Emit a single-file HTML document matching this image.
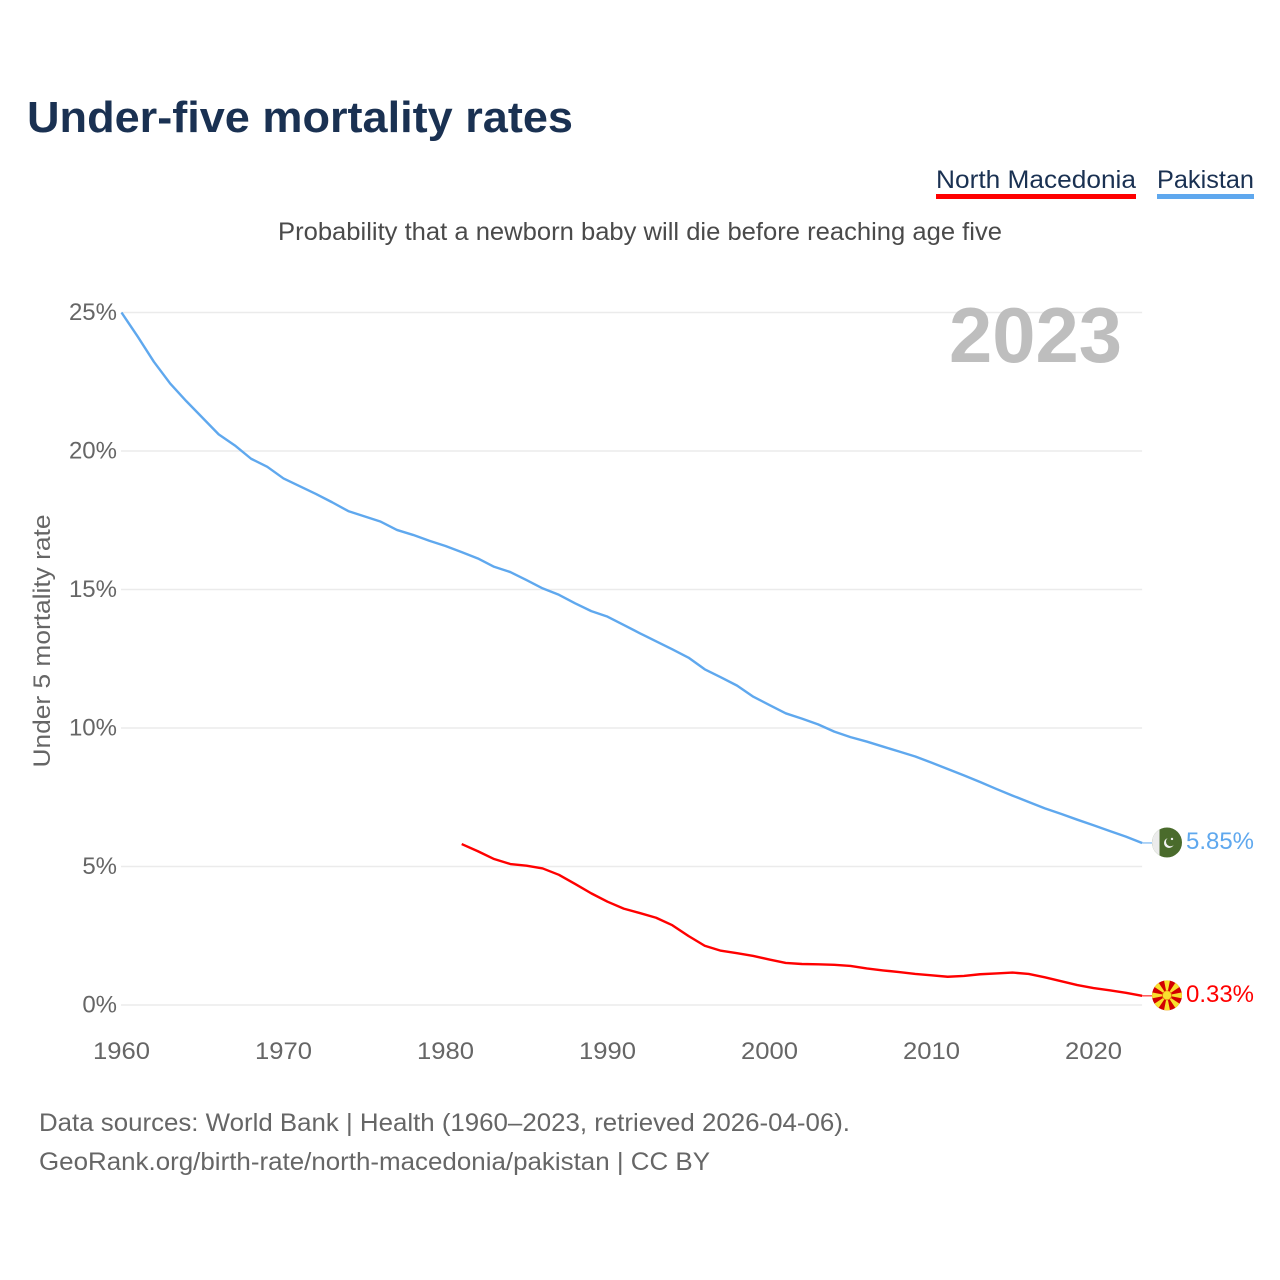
<!DOCTYPE html>
<html lang="en">
<head>
<meta charset="utf-8">
<title>Under-five mortality rates</title>
<style>
html,body{margin:0;padding:0;background:#fff;}
svg{display:block;font-family:"Liberation Sans",sans-serif;}
</style>
</head>
<body>
<svg id="chart" width="1280" height="1280" viewBox="0 0 1280 1280" xmlns="http://www.w3.org/2000/svg">
  <rect x="0" y="0" width="1280" height="1280" fill="#ffffff"/>
  <text x="27" y="132" font-size="44" font-weight="700" fill="#1a3152" textLength="546" lengthAdjust="spacingAndGlyphs">Under-five mortality rates</text>
  <g>
    <g>
      <text x="936" y="188" font-size="25" fill="#1a3152" textLength="200" lengthAdjust="spacingAndGlyphs">North Macedonia</text>
      <rect x="936" y="194" width="200" height="5" fill="#ff0000"/>
    </g>
    <g>
      <text x="1157" y="188" font-size="25" fill="#1a3152" textLength="97" lengthAdjust="spacingAndGlyphs">Pakistan</text>
      <rect x="1157" y="194" width="97" height="5" fill="#5fa8ee"/>
    </g>
  </g>
  <text x="278" y="240" font-size="25" fill="#4a4a4a" textLength="724" lengthAdjust="spacingAndGlyphs">Probability that a newborn baby will die before reaching age five</text>
  <text transform="translate(50,641) rotate(-90)" text-anchor="middle" font-size="24" fill="#666666" textLength="253" lengthAdjust="spacingAndGlyphs">Under 5 mortality rate</text>
  <g id="grid"></g>
  <g id="yticks"></g>
  <g id="xticks"></g>
  <text x="949" y="362" font-size="78" font-weight="700" fill="#bebebe" textLength="173" lengthAdjust="spacingAndGlyphs">2023</text>
  <g id="series"></g>
  <defs>
    <clipPath id="clip-pk"><circle cx="0" cy="0" r="15"/></clipPath>
    <clipPath id="clip-mk"><circle cx="0" cy="0" r="15"/></clipPath>
  </defs>
  <g id="flag-pk">
    <g clip-path="url(#clip-pk)">
      <rect x="-15" y="-15" width="30" height="30" fill="#4a6b2c"/>
      <rect x="-15" y="-15" width="7.5" height="30" fill="#ececec"/>
      <circle cx="2" cy="0.5" r="5" fill="#f2f2f2"/>
      <circle cx="3.6" cy="-0.8" r="4.6" fill="#4a6b2c"/>
      <circle cx="5" cy="-3.5" r="1.2" fill="#f2f2f2"/>
    </g>
  </g>
  <g id="flag-mk">
    <g clip-path="url(#clip-mk)">
      <rect x="-15" y="-15" width="30" height="30" fill="#d20000"/>
      <polygon points="0,0 -3.2,-16 3.2,-16" fill="#f8e02e"/>
      <polygon points="0,0 -3.2,-16 3.2,-16" fill="#f8e02e" transform="rotate(45)"/>
      <polygon points="0,0 -3.2,-16 3.2,-16" fill="#f8e02e" transform="rotate(90)"/>
      <polygon points="0,0 -3.2,-16 3.2,-16" fill="#f8e02e" transform="rotate(135)"/>
      <polygon points="0,0 -3.2,-16 3.2,-16" fill="#f8e02e" transform="rotate(180)"/>
      <polygon points="0,0 -3.2,-16 3.2,-16" fill="#f8e02e" transform="rotate(225)"/>
      <polygon points="0,0 -3.2,-16 3.2,-16" fill="#f8e02e" transform="rotate(270)"/>
      <polygon points="0,0 -3.2,-16 3.2,-16" fill="#f8e02e" transform="rotate(315)"/>
      <circle cx="0" cy="0" r="5" fill="#e86a10"/>
      <circle cx="0" cy="0" r="4.2" fill="#f8e02e"/>
    </g>
  </g>
  <text x="39" y="1131" font-size="25" fill="#666666" textLength="811" lengthAdjust="spacingAndGlyphs">Data sources: World Bank | Health (1960–2023, retrieved 2026-04-06).</text>
  <text x="39" y="1170" font-size="25" fill="#666666" textLength="671" lengthAdjust="spacingAndGlyphs">GeoRank.org/birth-rate/north-macedonia/pakistan | CC BY</text>
</svg>
<script>
const yTickValues = [0, 5, 10, 15, 20, 25];
const xTickValues = [1960, 1970, 1980, 1990, 2000, 2010, 2020];
const pakistanStartYear = 1960;
const pakistanValues = [
  25.0, 24.13, 23.22, 22.44, 21.8, 21.2, 20.6, 20.2, 19.72, 19.43,
  19.01, 18.73, 18.45, 18.15, 17.83, 17.64, 17.45, 17.15, 16.97, 16.76,
  16.57, 16.35, 16.12, 15.82, 15.63, 15.34, 15.04, 14.81, 14.5, 14.22,
  14.02, 13.72, 13.42, 13.13, 12.84, 12.54, 12.12, 11.83, 11.53, 11.13,
  10.83, 10.53, 10.34, 10.13, 9.87, 9.67, 9.51, 9.33, 9.15, 8.97,
  8.75, 8.52, 8.29, 8.05, 7.8, 7.56, 7.33, 7.1, 6.9, 6.69,
  6.49, 6.28, 6.08, 5.85
];
const macedoniaStartYear = 1981;
const macedoniaValues = [
  5.81, 5.55, 5.27, 5.09, 5.03, 4.93, 4.70, 4.37, 4.03,
  3.73, 3.48, 3.32, 3.15, 2.88, 2.49, 2.14, 1.96, 1.87, 1.77,
  1.64, 1.52, 1.48, 1.47, 1.45, 1.41, 1.32, 1.25, 1.19, 1.12,
  1.07, 1.02, 1.05, 1.11, 1.14, 1.17, 1.12, 1.00, 0.86, 0.72,
  0.61, 0.53, 0.44, 0.33
];

const SVG_NS = 'http://www.w3.org/2000/svg';
const xOf = function (year) { return 121.5 + (year - 1960) * 16.2; };
const yOf = function (value) { return 1005 - value * 27.7; };
const xEnd = xOf(2023);

const gridGroup = document.getElementById('grid');
const yTickGroup = document.getElementById('yticks');
const xTickGroup = document.getElementById('xticks');
const seriesGroup = document.getElementById('series');
const svgRoot = document.getElementById('chart');

yTickValues.forEach(function (v) {
  const line = document.createElementNS(SVG_NS, 'line');
  
  
  line.setAttribute('x1', 121);
  line.setAttribute('x2', xEnd);
  line.setAttribute('y1', yOf(v));
  line.setAttribute('y2', yOf(v));
  line.setAttribute('stroke', '#ebebeb');
  line.setAttribute('stroke-width', '1.6');
  gridGroup.appendChild(line);

  const label = document.createElementNS(SVG_NS, 'text');
  
  
  label.setAttribute('x', 117);
  label.setAttribute('y', yOf(v) + 7.5);
  label.setAttribute('text-anchor', 'end');
  label.setAttribute('font-size', '24');
  label.setAttribute('fill', '#666666');
  label.textContent = v + '%';
  yTickGroup.appendChild(label);
});

xTickValues.forEach(function (year) {
  const label = document.createElementNS(SVG_NS, 'text');
  
  
  label.setAttribute('x', xOf(year));
  label.setAttribute('y', 1059);
  label.setAttribute('text-anchor', 'middle');
  label.setAttribute('font-size', '24');
  label.setAttribute('fill', '#666666');
  label.setAttribute('textLength', '57');
  label.setAttribute('lengthAdjust', 'spacingAndGlyphs');
  label.textContent = String(year);
  xTickGroup.appendChild(label);
});

function drawSeries(name, startYear, values, color, flagId) {
  const points = values.map(function (v, i) {
    return xOf(startYear + i).toFixed(2) + ',' + yOf(v).toFixed(2);
  }).join(' ');
  const line = document.createElementNS(SVG_NS, 'polyline');
  
  
  line.setAttribute('points', points);
  line.setAttribute('fill', 'none');
  line.setAttribute('stroke', color);
  line.setAttribute('stroke-width', '2.4');
  line.setAttribute('stroke-linejoin', 'round');
  seriesGroup.appendChild(line);

  const last = values[values.length - 1];
  const lastX = xOf(startYear + values.length - 1);
  const lastY = yOf(last);

  const connector = document.createElementNS(SVG_NS, 'line');
  
  
  connector.setAttribute('x1', lastX);
  connector.setAttribute('x2', lastX + 12);
  connector.setAttribute('y1', lastY);
  connector.setAttribute('y2', lastY);
  connector.setAttribute('stroke', color);
  connector.setAttribute('stroke-width', '1');
  seriesGroup.appendChild(connector);

  const flag = document.getElementById(flagId);
  flag.setAttribute('transform', 'translate(1167,' + (lastY - 0.5) + ')');

  const endLabel = document.createElementNS(SVG_NS, 'text');
  
  
  endLabel.setAttribute('x', 1186);
  endLabel.setAttribute('y', lastY + 6);
  endLabel.setAttribute('font-size', '24');
  endLabel.setAttribute('fill', color);
  endLabel.setAttribute('textLength', '68');
  endLabel.setAttribute('lengthAdjust', 'spacingAndGlyphs');
  endLabel.textContent = last.toFixed(2) + '%';
  svgRoot.appendChild(endLabel);
}

drawSeries('pakistan', pakistanStartYear, pakistanValues, '#5fa8ee', 'flag-pk');
drawSeries('north-macedonia', macedoniaStartYear, macedoniaValues, '#ff0000', 'flag-mk');
</script>
</body>
</html>
